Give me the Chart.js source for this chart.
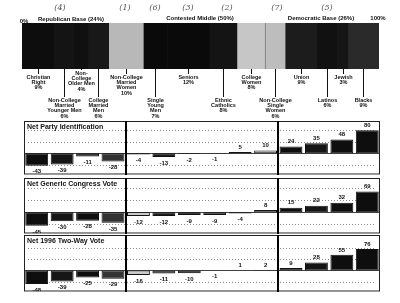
<!DOCTYPE html>
<html>
<head>
<meta charset="utf-8">
<script src="https://cdn.jsdelivr.net/npm/chart.js@4.4.1/dist/chart.umd.min.js"></script>
<style>
  body { margin: 0; background: #fff; }
  #wrap { position: relative; width: 400px; height: 303px; overflow: hidden; background: #fff; }
  canvas { position: absolute; left: 0; }
</style>
</head>
<body>
<div id="wrap">
  <canvas id="p1" width="400" height="54" style="top:121px"></canvas>
  <canvas id="p2" width="400" height="56" style="top:178px"></canvas>
  <canvas id="p3" width="400" height="57" style="top:235px"></canvas>
  <canvas id="top" width="400" height="124" style="top:0"></canvas>
</div>
<script>
// voter groups, left to right
const groups = [
  "Christian\nRight", "Non-College\nMarried\nYounger Men", "Non-\nCollege\nOlder Men", "College\nMarried\nMen",
  "Non-College\nMarried\nWomen", "Single\nYoung\nMen", "Seniors", "Ethnic\nCatholics", "College\nWomen", "Non-College\nSingle\nWomen",
  "Union", "Latinos", "Jewish", "Blacks"
];
// share of electorate (%)
const shares = [9, 6, 4, 6, 10, 7, 12, 8, 8, 6, 9, 6, 3, 9];

const partyId  = [-43, -39, -11, -28, -4, -13, -2, -1, 5, 10, 24, 35, 48, 80];
const congress = [-45, -30, -28, -35, -12, -12, -9, -9, -4, 8, 15, 22, 32, 69];
const vote96   = [-48, -39, -25, -29, -16, -11, -10, -1, 1, 2, 9, 28, 55, 76];

const blocs = ["Republican Base (24%)", "Contested Middle (50%)", "Democratic Base (26%)"];
const notes = ["(4)", "(1)", "(6)", "(3)", "(2)", "(7)", "(5)"];

const FONT = "'Liberation Sans', Arial, sans-serif";

// ---------- top: share bar ----------
const segColors = ["#0d0d0d", "#141414", "#101010", "#181818", "#b8b8b8", "#0a0a0a", "#0a0a0a",
                   "#141414", "#c6c6c6", "#bdbdbd", "#1c1c1c", "#111", "#151515", "#2a2a2a"];

const shareLabels = {
  id: "shareLabels",
  afterDraw(chart) {
    const ctx = chart.ctx;
    const xs = chart.scales.x;
    const area = chart.chartArea;
    ctx.save();
    ctx.fillStyle = "#111";
    ctx.strokeStyle = "#111";
    ctx.lineWidth = 1;
    ctx.textAlign = "center";
    ctx.textBaseline = "middle";
    ctx.font = "bold 5.5px " + FONT;
    let cum = 0;
    groups.forEach((g, i) => {
      const x = Math.round(xs.getPixelForValue(cum + shares[i] / 2)) + 0.5;
      cum += shares[i];
      const lines = g.split("\n").concat([shares[i] + "%"]);
      let y0 = i % 2 === 0 ? 77 : 100;
      if (i === 2) y0 = 73;
      ctx.beginPath();
      ctx.moveTo(x, area.bottom);
      ctx.lineTo(x, y0 - 3);
      ctx.stroke();
      lines.forEach((t, k) => ctx.fillText(t, x, y0 + k * 5.4));
    });
    // headers
    ctx.font = "bold 6px " + FONT;
    ctx.fillText("0%", 24, 21);
    ctx.fillText("100%", 378, 18);
    ctx.fillText(blocs[0], 71, 19);
    ctx.fillText(blocs[1], 200, 18);
    ctx.fillText(blocs[2], 321, 18);
    // handwritten marks
    ctx.fillStyle = "#555";
    ctx.font = "italic 8px 'DejaVu Serif', serif";
    [60, 125, 155, 188, 227, 277, 327].forEach((x, i) => ctx.fillText(notes[i], x, 8));
    ctx.restore();
  }
};

new Chart(document.getElementById("top"), {
  type: "bar",
  data: {
    labels: ["share"],
    datasets: shares.map((s, i) => ({
      label: groups[i],
      data: [s],
      backgroundColor: segColors[i],
      borderColor: "#000",
      borderWidth: i === 9 ? { left: 1, top: 0, right: 0, bottom: 0 } : 0,
      borderSkipped: false,
      barPercentage: 1,
      categoryPercentage: 1
    }))
  },
  options: {
    indexAxis: "y",
    responsive: false,
    devicePixelRatio: 1,
    animation: false,
    layout: { padding: { left: 22, right: 21, top: 23, bottom: 55 } },
    plugins: { legend: { display: false }, tooltip: { enabled: false } },
    scales: {
      x: { stacked: true, display: false, min: 0, max: shares.reduce((a, b) => a + b, 0) },
      y: { stacked: true, display: false }
    }
  },
  plugins: [shareLabels]
});

// ---------- bottom: three panels ----------
const barColors = ["#0e0e0e", "#161616", "#0e0e0e", "#333", "#c9c9c9", "#1e1e1e", "#0e0e0e",
                   "#333", "#a8a8a8", "#c4c4c4", "#0e0e0e", "#161616", "#0e0e0e", "#0e0e0e"];

const panelDecor = {
  id: "panelDecor",
  beforeDatasetsDraw(chart) {
    const ctx = chart.ctx, a = chart.chartArea, y = chart.scales.y;
    ctx.save();
    ctx.strokeStyle = "#8a8a8a";
    ctx.lineWidth = 1;
    ctx.setLineDash([1, 2]);
    [-40, 40, 80].forEach(v => {
      if (v <= y.min || v >= y.max) return;
      const py = Math.round(y.getPixelForValue(v)) + 0.5;
      ctx.beginPath(); ctx.moveTo(a.left + 4, py); ctx.lineTo(a.right - 4, py); ctx.stroke();
    });
    ctx.setLineDash([]);
    ctx.strokeStyle = "#444";
    const z = Math.round(y.getPixelForValue(0)) + 0.5;
    ctx.beginPath(); ctx.moveTo(a.left, z); ctx.lineTo(a.right, z); ctx.stroke();
    ctx.restore();
  },
  afterDraw(chart) {
    const ctx = chart.ctx, a = chart.chartArea, x = chart.scales.x;
    const vals = chart.data.datasets[0].data;
    ctx.save();
    // value labels
    ctx.fillStyle = "#111";
    ctx.textAlign = "center";
    ctx.font = "bold 6px " + FONT;
    chart.getDatasetMeta(0).data.forEach((bar, i) => {
      const v = vals[i];
      if (v >= 0) { ctx.textBaseline = "bottom"; ctx.fillText(v, bar.x, bar.y - 2); }
      else { ctx.textBaseline = "top"; ctx.fillText(v, bar.x, bar.y + 3); }
    });
    // title
    ctx.textAlign = "left";
    ctx.textBaseline = "top";
    ctx.font = "bold 7px " + FONT;
    ctx.fillText(chart.options.plugins.title.text, a.left + 3, a.top + 3);
    // frame and dividers
    ctx.strokeStyle = "#222";
    ctx.lineWidth = 1;
    ctx.strokeRect(a.left + 0.5, a.top + 0.5, a.right - a.left - 1, a.bottom - a.top - 1.5);
    ctx.strokeStyle = "#999";
    ctx.beginPath(); ctx.moveTo(a.left + 1, a.bottom - 0.5); ctx.lineTo(a.right, a.bottom - 0.5); ctx.stroke();
    ctx.strokeStyle = "#000";
    ctx.lineWidth = 2;
    [3, 9].forEach(i => {
      const px = Math.round((x.getPixelForValue(i) + x.getPixelForValue(i + 1)) / 2);
      ctx.beginPath(); ctx.moveTo(px, 0); ctx.lineTo(px, chart.height); ctx.stroke();
    });
    ctx.restore();
  }
};

function makePanel(id, title, values, min, max) {
  new Chart(document.getElementById(id), {
    type: "bar",
    data: {
      labels: groups,
      datasets: [{
        data: values,
        backgroundColor: barColors,
        borderColor: "#111",
        borderWidth: 1,
        borderSkipped: false,
        barPercentage: 0.9,
        categoryPercentage: 1
      }]
    },
    options: {
      responsive: false,
      devicePixelRatio: 1,
      animation: false,
      layout: { padding: { left: 24, right: 20, top: 0, bottom: 0 } },
      plugins: {
        legend: { display: false },
        tooltip: { enabled: false },
        title: { display: false, text: title }
      },
      scales: {
        x: { display: false },
        y: { display: false, min: min, max: max }
      }
    },
    plugins: [panelDecor]
  });
}

makePanel("p1", "Net Party Identification", partyId, -75, 112);
makePanel("p2", "Net Generic Congress Vote", congress, -72, 114);
makePanel("p3", "Net 1996 Two-Way Vote", vote96, -76, 125);
</script>
</body>
</html>
